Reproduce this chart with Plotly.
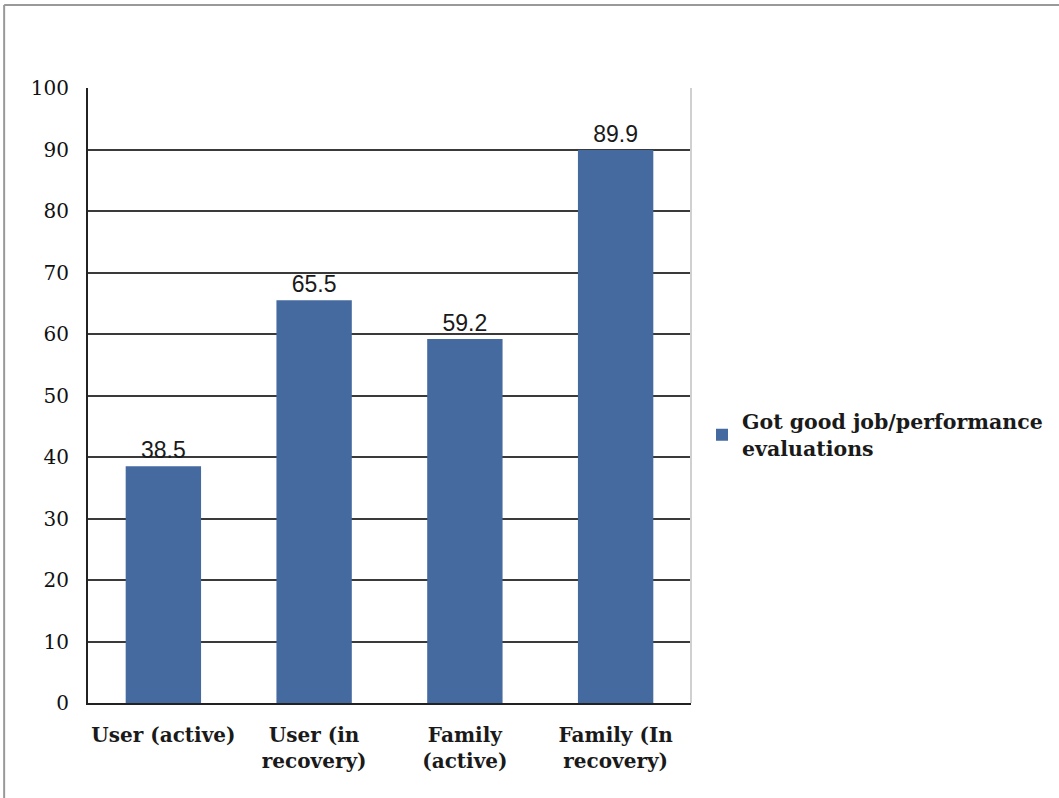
import plotly.graph_objects as go

categories = ["User (active)", "User (in<br>recovery)", "Family<br>(active)", "Family (In<br>recovery)"]
values = [38.5, 65.5, 59.2, 89.9]
value_labels = ["38.5", "65.5", "59.2", "89.9"]
series_name = "Got good job/performance<br>evaluations"
y_ticks = [0, 10, 20, 30, 40, 50, 60, 70, 80, 90, 100]

serif = "DejaVu Serif, serif"
sans = "Liberation Sans, Arial, sans-serif"

fig = go.Figure()
fig.add_trace(go.Bar(
    x=categories, y=values, name=series_name,
    marker=dict(color="#456a9f", line=dict(width=0)),
    width=0.5,
    text=value_labels, textposition="outside", cliponaxis=False,
    textfont=dict(family=sans, size=23, color="#1a1a1a"),
    showlegend=True,
))

W, H = 1059, 798
l, r, t, b = 88, W - 692, 88, H - 703
pw, ph = 692 - l, 703 - t

fig.update_layout(
    width=W, height=H,
    margin=dict(l=l, r=r, t=t, b=b, pad=0),
    paper_bgcolor="white", plot_bgcolor="white",
    bargap=0.5,
    xaxis=dict(
        showgrid=False, showline=True, linecolor="#222", linewidth=2,
        mirror=False, ticks="", ticklabelstandoff=13,
        tickfont=dict(family=serif, size=20, color="#1a1a1a", weight="bold"),
        fixedrange=True,
    ),
    yaxis=dict(
        range=[0, 100], tickvals=y_ticks, showgrid=True, gridcolor="#3a3a3a", gridwidth=2,
        showline=True, linecolor="#222", linewidth=2, ticks="", ticklen=0,
        tickfont=dict(family=serif, size=20, color="#111"),
        zeroline=False, fixedrange=True,
        ticklabelstandoff=13,
    ),
    legend=dict(
        x=(702 - l) / pw, y=(703 - 435) / ph, xanchor="left", yanchor="middle",
        font=dict(family=serif, size=20.5, color="#1a1a1a", weight="bold"),
        bgcolor="rgba(0,0,0,0)", itemwidth=30, tracegroupgap=0,
    ),
    shapes=[
        dict(type="line", xref="paper", yref="paper", x0=1, x1=1, y0=0, y1=1,
             line=dict(color="#d0d0d0", width=2)),
        dict(type="line", xref="paper", yref="paper",
             x0=(4 - l) / pw, x1=(4 - l) / pw,
             y0=(703 - 5) / ph, y1=(703 - 800) / ph,
             line=dict(color="#999", width=2)),
        dict(type="line", xref="paper", yref="paper",
             x0=(4 - l) / pw, x1=(1062 - l) / pw,
             y0=(703 - 5) / ph, y1=(703 - 5) / ph,
             line=dict(color="#999", width=2)),
    ],
)

fig.write_html("out.html", config={"displayModeBar": False},
               post_script="document.body.style.margin='0px';")
